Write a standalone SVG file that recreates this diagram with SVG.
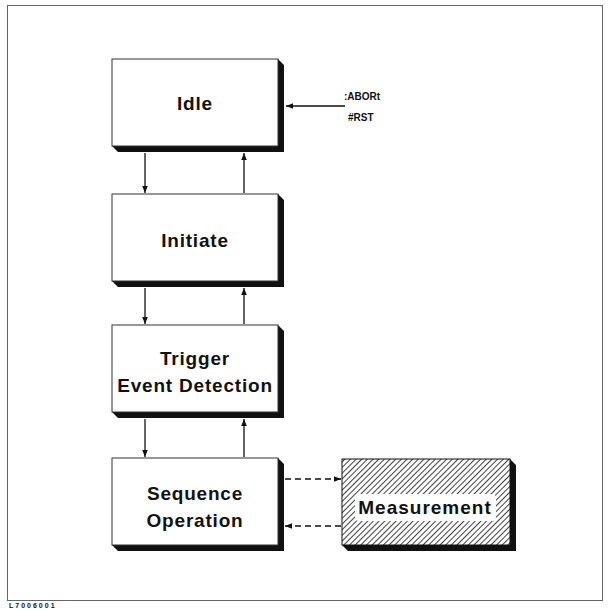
<svg xmlns="http://www.w3.org/2000/svg" width="610" height="610" viewBox="0 0 610 610">
<defs>
<style>
.box{fill:#fff;stroke:#333;stroke-width:1}
.sh{fill:#111}
.lbl{font-family:"Liberation Sans",Arial,sans-serif;font-weight:bold;font-size:19px;letter-spacing:0.8px;fill:#111;text-anchor:middle}
.sm{font-family:"Liberation Sans",Arial,sans-serif;font-weight:bold;font-size:10px;fill:#111}
.ln{stroke:#111;stroke-width:1.3;fill:none}
.dash{stroke:#111;stroke-width:1.3;fill:none;stroke-dasharray:6,4}
</style>
<marker id="ah" viewBox="0 0 10 10" refX="10" refY="5" markerWidth="7" markerHeight="7" orient="auto" markerUnits="userSpaceOnUse">
<path d="M0,1 L10,5 L0,9 z" fill="#111"/>
</marker>
<pattern id="hatch" width="4" height="4" patternUnits="userSpaceOnUse" patternTransform="rotate(45)">
<rect width="4" height="4" fill="#fff"/>
<line x1="0" y1="0" x2="0" y2="4" stroke="#111" stroke-width="1.6"/>
</pattern>
</defs>
<rect x="7.5" y="5.5" width="595" height="595" fill="#fff" stroke="#666" stroke-width="1"/>
<text x="9" y="608" font-family="Liberation Sans,Arial,sans-serif" font-weight="bold" font-size="7" letter-spacing="2" fill="#111">L7006001</text>

<g id="idle">
<polygon class="sh" points="112,146 118,152 284,152 284,65 278,59 278,146"/>
<rect class="box" x="112" y="59" width="166" height="87"/>
<text class="lbl" x="195" y="110">Idle</text>
</g>
<g id="initiate">
<polygon class="sh" points="112,281 118,287 284,287 284,200 278,194 278,281"/>
<rect class="box" x="112" y="194" width="166" height="87"/>
<text class="lbl" x="195" y="247">Initiate</text>
</g>
<g id="trigger">
<polygon class="sh" points="112,412 118,418 284,418 284,331 278,325 278,412"/>
<rect class="box" x="112" y="325" width="166" height="87"/>
<text class="lbl" x="195" y="365">Trigger</text>
<text class="lbl" x="195" y="392">Event Detection</text>
</g>
<g id="sequence">
<polygon class="sh" points="112,545 118,551 284,551 284,464 278,458 278,545"/>
<rect class="box" x="112" y="458" width="166" height="87"/>
<text class="lbl" x="195" y="500">Sequence</text>
<text class="lbl" x="195" y="527">Operation</text>
</g>
<g id="measurement">
<polygon class="sh" points="342,545 348,551 516,551 516,465 510,459 510,545"/>
<rect x="342" y="459" width="168" height="86" fill="url(#hatch)" stroke="#111" stroke-width="1"/>
<rect x="355" y="494" width="141" height="27" rx="4" fill="#fff"/>
<text class="lbl" x="425" y="514" style="letter-spacing:1px">Measurement</text>
</g>
<g id="abort-label">
<text class="sm" x="344" y="100">:ABORt</text>
<text class="sm" x="348" y="121">#RST</text>
</g>

<g id="connectors">
<line class="ln" x1="345" y1="106" x2="286" y2="106" marker-end="url(#ah)"/>
<line class="ln" x1="145" y1="153" x2="145" y2="193" marker-end="url(#ah)"/>
<line class="ln" x1="244" y1="193" x2="244" y2="153" marker-end="url(#ah)"/>
<line class="ln" x1="145" y1="288" x2="145" y2="324" marker-end="url(#ah)"/>
<line class="ln" x1="244" y1="324" x2="244" y2="288" marker-end="url(#ah)"/>
<line class="ln" x1="145" y1="419" x2="145" y2="457" marker-end="url(#ah)"/>
<line class="ln" x1="244" y1="457" x2="244" y2="419" marker-end="url(#ah)"/>
<line class="dash" x1="285" y1="479" x2="341" y2="479" marker-end="url(#ah)"/>
<line class="dash" x1="341" y1="526" x2="285" y2="526" marker-end="url(#ah)"/>
</g>
</svg>
